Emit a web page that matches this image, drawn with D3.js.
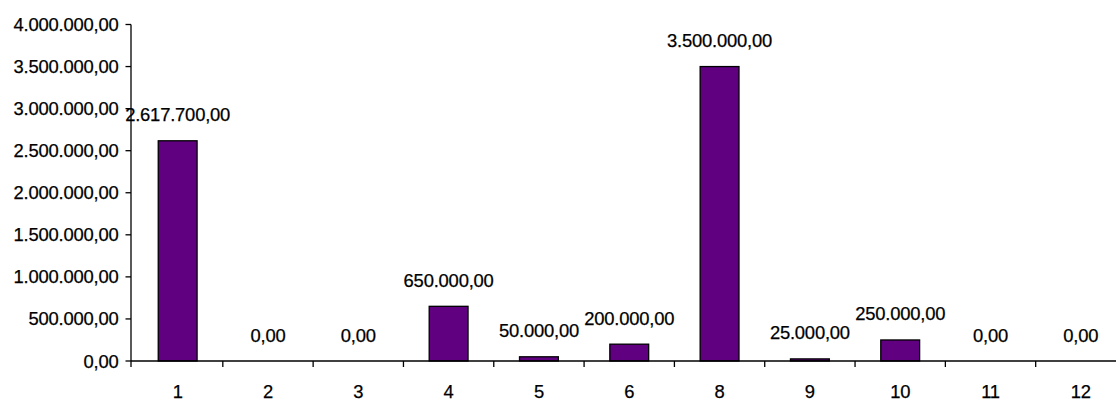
<!DOCTYPE html>
<html><head><meta charset="utf-8">
<script src="https://cdn.jsdelivr.net/npm/d3@7"></script>
<style>html,body{margin:0;padding:0;background:#fff;overflow:hidden}</style>
</head><body>
<svg id="c" width="1116" height="403"></svg>
<script>
const categories = ["1","2","3","4","5","6","8","9","10","11","12"];
const values = [2617700, 0, 0, 650000, 50000, 200000, 3500000, 25000, 250000, 0, 0];
const yTicks = [0, 500000, 1000000, 1500000, 2000000, 2500000, 3000000, 3500000, 4000000];

const fmt = v => {
  const s = d3.format(",.2f")(v);
  return s.replace(/,/g, "#").replace(".", ",").replace(/#/g, ".");
};

const svg = d3.select("#c");
const pL = 132.5, pR = 1126, pT = 24.5, pB = 361;
const x = d3.scaleBand().domain(categories).range([pL, pR]).paddingInner(0).paddingOuter(0);
const y = d3.scaleLinear().domain([0, 4000000]).range([pB, pT]);

const font = "'Liberation Sans', Arial, sans-serif";
const fs = 18.4;
function label(g, tx, ty, str, anchor) {
  g.append("text").attr("x", tx).attr("y", ty).attr("text-anchor", anchor).attr("font-family", font)
    .attr("font-size", fs).attr("fill", "#000").attr("letter-spacing", -0.2)
    .attr("stroke", "#000").attr("stroke-width", 0.25).text(str);
}

// bars
const bw = x.bandwidth() * 0.43;
svg.append("g").selectAll("rect").data(values.map((v,i)=>({c:categories[i], v})).filter(d=>d.v>0))
  .join("rect")
  .attr("x", d => x(d.c) + x.bandwidth()/2 - bw/2)
  .attr("y", d => y(d.v))
  .attr("width", bw)
  .attr("height", d => pB - y(d.v))
  .attr("fill", "#600080").attr("stroke", "#000").attr("stroke-width", 1.3);

// axes
const ax = svg.append("g").attr("stroke", "#000").attr("stroke-width", 1.3).attr("fill", "none");
ax.append("line").attr("x1", pL - 1.5).attr("x2", pL - 1.5).attr("y1", pT).attr("y2", pB);
ax.append("line").attr("x1", pL - 1.5).attr("x2", 1116).attr("y1", pB).attr("y2", pB);
yTicks.forEach(t => {
  ax.append("line").attr("x1", pL - 7).attr("x2", pL - 1.5).attr("y1", y(t)).attr("y2", y(t));
});
categories.forEach((c, i) => {
  const xx = x(c) - (i === 0 ? 1.5 : 0);
  ax.append("line").attr("x1", xx).attr("x2", xx).attr("y1", pB).attr("y2", pB + 6);
});

const tg = svg.append("g");
yTicks.forEach(t => label(tg, 118.5, y(t) + 6.5, fmt(t), "end"));
categories.forEach(c => label(tg, x(c) + x.bandwidth()/2, 398, c, "middle"));
values.forEach((v, i) => label(tg, x(categories[i]) + x.bandwidth()/2, y(v) - 19.5, fmt(v), "middle"));
</script>
</body></html>
